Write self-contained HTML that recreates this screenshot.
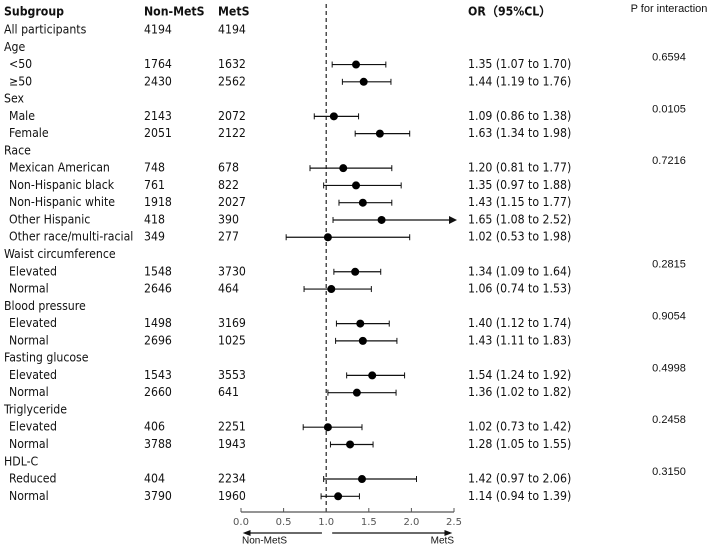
<!DOCTYPE html>
<html><head><meta charset="utf-8">
<style>
html,body{margin:0;padding:0;background:#fff;}
svg{display:block;}
.t{font-family:"Liberation Sans Narrow","DejaVu Sans Condensed","Liberation Sans",sans-serif;font-size:12.2px;fill:#111;}
.b{font-weight:bold;}
.p{font-family:"Liberation Sans",sans-serif;font-size:11px;fill:#111;}
.ax{font-family:"DejaVu Sans",sans-serif;font-size:10px;fill:#555;}
.sm{font-family:"Liberation Sans Narrow","Liberation Sans",sans-serif;font-size:10px;fill:#111;}
</style></head>
<body>
<svg id="chart" width="708" height="546"></svg>
<script>
const labels=["All participants","Age","<50","≥50","Sex","Male","Female","Race","Mexican American","Non-Hispanic black","Non-Hispanic white","Other Hispanic","Other race/multi-racial","Waist circumference","Elevated","Normal","Blood pressure","Elevated","Normal","Fasting glucose","Elevated","Normal","Triglyceride","Elevated","Normal","HDL-C","Reduced","Normal"];
const isSub=[0,0,1,1,0,1,1,0,1,1,1,1,1,0,1,1,0,1,1,0,1,1,0,1,1,0,1,1];
const nonMetS=["4194","","1764","2430","","2143","2051","","748","761","1918","418","349","","1548","2646","","1498","2696","","1543","2660","","406","3788","","404","3790"];
const metS=["4194","","1632","2562","","2072","2122","","678","822","2027","390","277","","3730","464","","3169","1025","","3553","641","","2251","1943","","2234","1960"];
const orVal=[null,null,1.35,1.44,null,1.09,1.63,null,1.20,1.35,1.43,1.65,1.02,null,1.34,1.06,null,1.40,1.43,null,1.54,1.36,null,1.02,1.28,null,1.42,1.14];
const lo=[null,null,1.07,1.19,null,0.86,1.34,null,0.81,0.97,1.15,1.08,0.53,null,1.09,0.74,null,1.12,1.11,null,1.24,1.02,null,0.73,1.05,null,0.97,0.94];
const hi=[null,null,1.70,1.76,null,1.38,1.98,null,1.77,1.88,1.77,2.52,1.98,null,1.64,1.53,null,1.74,1.83,null,1.92,1.82,null,1.42,1.55,null,2.06,1.39];
const pVals=["0.6594","0.0105","0.7216","0.2815","0.9054","0.4998","0.2458","0.3150"];
const pRow=[2,5,8,14,17,20,23,26];
const ticks=[0.0,0.5,1.0,1.5,2.0,2.5];

const svg=document.getElementById('chart');
const NS="http://www.w3.org/2000/svg";
const X0=241,X1=454,XMAX=2.5;
const x=v=>X0+(Math.min(v,XMAX)/XMAX)*(X1-X0);
const y0=30,dy=17.27;
const y=i=>y0+i*dy;
function el(tag,attrs,txt){const e=document.createElementNS(NS,tag);for(const k in attrs)e.setAttribute(k,attrs[k]);if(txt!==undefined)e.textContent=txt;svg.appendChild(e);return e;}
function text(xx,yy,s,cls,anchor){return el('text',{x:xx,y:yy,class:cls,'text-anchor':anchor||'start','dominant-baseline':'middle'},s);}

let h;
h=text(4,12,"Subgroup","t b");

h=text(144,12,"Non-MetS","t b");

h=text(218,12,"MetS","t b");

h=text(468,12,"OR（95%CL）","t b");

h=text(669,9,"P for interaction","p","middle");


h=el('line',{x1:x(1),x2:x(1),y1:4,y2:512,stroke:'#222','stroke-width':1.2,'stroke-dasharray':'4,3'});


labels.forEach((lab,i)=>{
  const yy=y(i);
  let t=text(isSub[i]?9:4,yy,lab,"t");
  
  
  if(nonMetS[i]){t=text(144,yy,nonMetS[i],"t");
    
    }
  if(metS[i]){t=text(218,yy,metS[i],"t");
    
    }
  if(orVal[i]!==null){
    const g=el('g',{});
    
    
    const a=x(lo[i]),b=x(hi[i]);
    const ln=document.createElementNS(NS,'line');
    ln.setAttribute('x1',a);ln.setAttribute('x2',b);ln.setAttribute('y1',yy);ln.setAttribute('y2',yy);
    ln.setAttribute('stroke','#111');ln.setAttribute('stroke-width','1.2');
    
    
    g.appendChild(ln);
    const c1=document.createElementNS(NS,'line');
    c1.setAttribute('x1',a);c1.setAttribute('x2',a);c1.setAttribute('y1',yy-3);c1.setAttribute('y2',yy+3);c1.setAttribute('stroke','#111');
    g.appendChild(c1);
    if(hi[i]>XMAX){
      const ar=document.createElementNS(NS,'path');
      ar.setAttribute('d',`M${b+3},${yy} L${b-5},${yy-4} L${b-5},${yy+4}Z`);ar.setAttribute('fill','#111');
      
      
      g.appendChild(ar);
    } else {
      const c2=document.createElementNS(NS,'line');
      c2.setAttribute('x1',b);c2.setAttribute('x2',b);c2.setAttribute('y1',yy-3);c2.setAttribute('y2',yy+3);c2.setAttribute('stroke','#111');
      g.appendChild(c2);
    }
    const d=document.createElementNS(NS,'circle');
    d.setAttribute('cx',x(orVal[i]));d.setAttribute('cy',yy);d.setAttribute('r',4);d.setAttribute('fill','#000');
    
    
    g.appendChild(d);
    t=text(468,yy,`${orVal[i].toFixed(2)} (${lo[i].toFixed(2)} to ${hi[i].toFixed(2)})`,"t");
    
    
  }
});
pVals.forEach((p,k)=>{
  const t=text(669,y(pRow[k])-7,p,"p","middle");
  
  
});

h=el('line',{x1:X0,x2:X1,y1:512,y2:512,stroke:'#555','stroke-width':1.2});

ticks.forEach(v=>{
  const tk=el('line',{x1:x(v),x2:x(v),y1:508,y2:512,stroke:'#555'});
  
  
  const tl=text(x(v),522,v.toFixed(1),"ax","middle");
  
  
});
h=el('path',{d:`M${x(0.95)},533 L${x(0.1)},533`,stroke:'#111','stroke-width':1.2});

h=el('path',{d:`M${x(0.02)},533 L${x(0.1)+1},530 L${x(0.1)+1},536Z`,fill:'#111'});
h=el('path',{d:`M${x(1.07)},533 L${x(2.4)},533`,stroke:'#111','stroke-width':1.2});

h=el('path',{d:`M${x(2.48)},533 L${x(2.4)-1},530 L${x(2.4)-1},536Z`,fill:'#111'});
h=text(x(0.0)+1,541,"Non-MetS","sm");

h=text(x(2.5),541,"MetS","sm","end");

</script>
</body></html>
